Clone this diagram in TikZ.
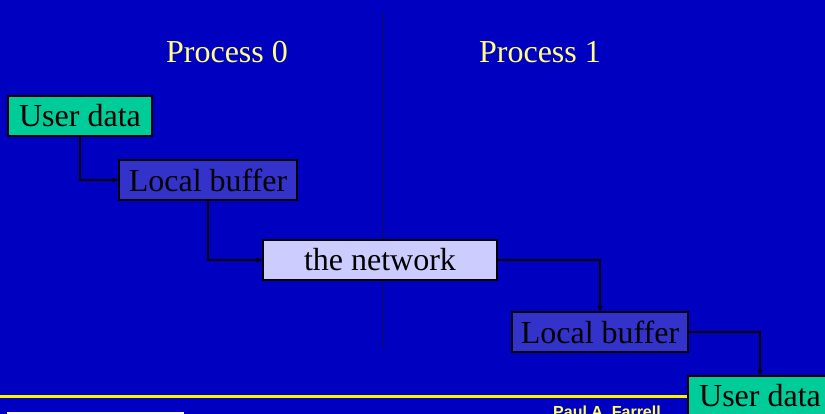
\documentclass[tikz,border=0pt]{standalone}
\usepackage{fontspec}
\setmainfont{Liberation Serif}
\newfontfamily\footfont{Liberation Sans}
\usetikzlibrary{arrows.meta}
\definecolor{bgblue}{HTML}{0000C0}
\definecolor{titleyellow}{HTML}{FFFF80}
\definecolor{footyellow}{HTML}{FFFF66}
\definecolor{userfill}{HTML}{00CC99}
\definecolor{buffill}{HTML}{3333CC}
\definecolor{netfill}{HTML}{CCCCFF}
\definecolor{divider}{HTML}{101050}
\tikzset{
  boxbase/.style={draw=black, line width=1.2pt, inner sep=0pt, minimum height=40pt,
    font=\fontsize{32}{38}\selectfont, text=black},
  userbox/.style={boxbase, fill=userfill, minimum width=144pt},
  bufbox/.style={boxbase, fill=buffill},
  netbox/.style={boxbase, fill=netfill, minimum width=234pt},
  title/.style={anchor=base, text=titleyellow, font=\fontsize{32}{38}\selectfont, inner sep=0pt},
  conn/.style={draw=black, line width=1.5pt, -{Stealth[length=6pt,width=5pt]}}
}
\begin{document}
\begin{tikzpicture}[x=1pt,y=-1pt]
\useasboundingbox (0,0) rectangle (825,414);
\fill[bgblue] (0,0) rectangle (825,414);
\clip (0,0) rectangle (825,414);
% divider
\draw[divider, line width=1.5pt] (383.5,12) -- (383.5,348);
% footer line
\fill[yellow] (0,394.5) rectangle (700,397.5);
% white box at bottom-left
\fill[white] (7,412) rectangle (184,420);
% footer text
\node[anchor=base west, inner sep=0pt, text=footyellow, font=\footfont\bfseries\fontsize{16}{19}\selectfont] (author) at (553,417.5) {Paul A. Farrell};
% titles
\node[title] (p0) at (227,63) {Process 0};
\node[title] (p1) at (540,63) {Process 1};
% boxes
\node[userbox] (ud1) at (80,116) {User data};
\node[bufbox, minimum width=178pt] (lb1) at (208,180) {Local buffer};
\node[netbox] (net) at (380,260) {the network};
\node[bufbox, minimum width=176pt] (lb2) at (600,332) {Local buffer};
\node[userbox] (ud2) at (760,396) {User data};
% connectors
\draw[conn] (ud1.south) |- (lb1.west);
\draw[conn] (lb1.south) |- (net.west);
\draw[conn] (net.east) -| (lb2.north);
\draw[conn] (lb2.east) -| (ud2.north);
\end{tikzpicture}
\end{document}
